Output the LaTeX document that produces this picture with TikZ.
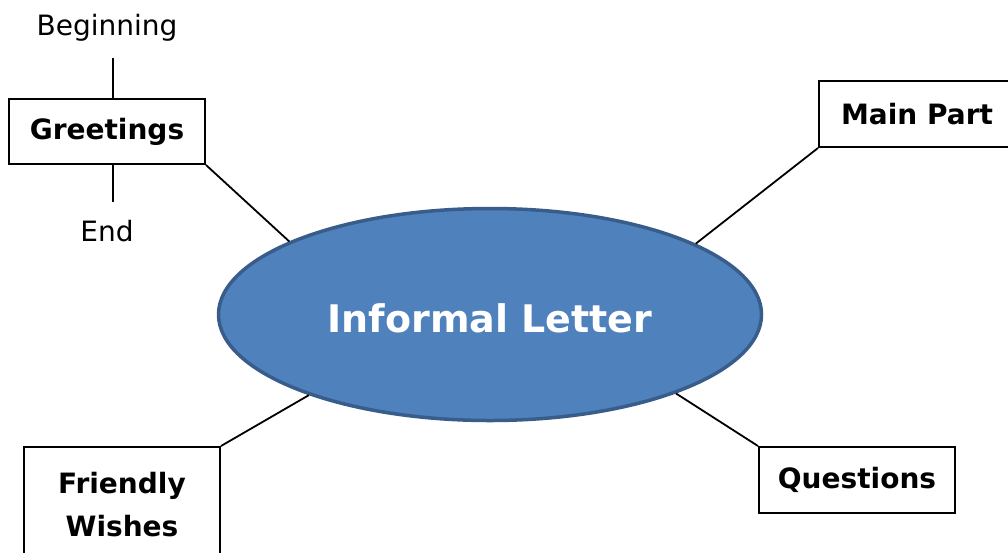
\documentclass[tikz,border=0pt]{standalone}
\usepackage{fontspec}
\setmainfont{DejaVu Sans}
\usetikzlibrary{shapes.geometric}
\definecolor{ellfill}{HTML}{4F81BD}
\definecolor{elldraw}{HTML}{385D8A}
\tikzset{
  box/.style={draw=black, line width=2pt, fill=white, inner sep=0pt, minimum width=196pt, minimum height=65pt, font=\fontsize{28}{43}\selectfont\bfseries, align=center},
  lbl/.style={inner sep=0pt, font=\fontsize{28}{32}\selectfont},
  conn/.style={draw=black, line width=1.8pt},
}
\begin{document}
\begin{tikzpicture}[x=1pt,y=-1pt]
\clip (0,0) rectangle (1008,552);
\fill[white] (0,0) rectangle (1008,552);
\node[ellipse, draw=elldraw, fill=ellfill, line width=3.5pt, inner sep=0pt, minimum width=543pt, minimum height=212pt] (ell) at (490,314.5) {};
\node[text=white, inner sep=0pt, font=\fontsize{38}{44}\selectfont\bfseries] (title) at (490,318) {Informal Letter};
\node[box] (greet) at (107,131.5) {Greetings};
\node[box, minimum height=66pt] (main) at (917,114) {Main Part};
\node[box, minimum height=66pt] (quest) at (857,480) {Questions};
\node[box, minimum height=116pt] (friend) at (122,505) {Friendly\\Wishes};
\node[lbl] (begin) at (107,28) {Beginning};
\node[lbl] (end) at (107,231) {End};
\coordinate (bl) at (113,58);
\coordinate (el) at (113,202);
\draw[conn] (bl) -- (bl |- greet.north);
\draw[conn] (el) -- (el |- greet.south);
\draw[conn] (greet.south east) -- (ell.160.8);
\draw[conn] (main.south west) -- (ell.19.5);
\draw[conn] (friend.north east) -- (ell.204.7);
\draw[conn] (quest.north west) -- (ell.337);
\end{tikzpicture}
\end{document}
